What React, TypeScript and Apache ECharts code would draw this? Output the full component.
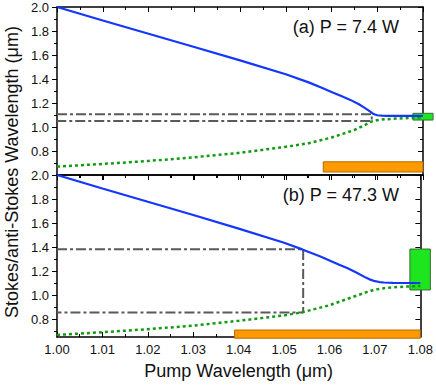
import React, { useEffect, useRef } from "react";
import * as echarts from "echarts";

// Panel (a): P = 7.4 W
const pumpStokesA = [1.0, 1.01, 1.02, 1.03, 1.04, 1.05, 1.055, 1.058, 1.06, 1.062, 1.064, 1.066, 1.067, 1.068, 1.069, 1.0695, 1.07, 1.071, 1.072, 1.08];
const stokesA = [2.0, 1.888, 1.777, 1.667, 1.555, 1.44, 1.372, 1.325, 1.292, 1.26, 1.228, 1.19, 1.166, 1.14, 1.113, 1.104, 1.098, 1.095, 1.093, 1.092];
const pumpAntiA = [1.0, 1.01, 1.02, 1.03, 1.04, 1.05, 1.055, 1.06, 1.065, 1.068, 1.069, 1.07, 1.071, 1.074, 1.08];
const antiA = [0.67, 0.692, 0.717, 0.748, 0.785, 0.835, 0.865, 0.912, 0.975, 1.03, 1.05, 1.057, 1.062, 1.07, 1.08];
const guideAx = [1.0, 1.0688, 1.0688, 1.0];
const guideAy = [1.106, 1.106, 1.05, 1.05];

// Panel (b): P = 47.3 W
const pumpStokesB = [1.0, 1.01, 1.02, 1.03, 1.04, 1.05, 1.054, 1.058, 1.062, 1.064, 1.066, 1.068, 1.069, 1.07, 1.071, 1.072, 1.074, 1.08];
const stokesB = [2.0, 1.888, 1.777, 1.667, 1.553, 1.435, 1.38, 1.32, 1.255, 1.222, 1.185, 1.145, 1.128, 1.115, 1.108, 1.104, 1.101, 1.1];
const pumpAntiB = [1.0, 1.01, 1.02, 1.03, 1.04, 1.05, 1.054, 1.06, 1.065, 1.068, 1.07, 1.072, 1.074, 1.077, 1.08];
const antiB = [0.667, 0.69, 0.715, 0.745, 0.785, 0.83, 0.856, 0.915, 0.982, 1.022, 1.045, 1.057, 1.064, 1.07, 1.075];
const guideBx = [1.0, 1.0542, 1.0542, 1.0];
const guideBy = [1.381, 1.381, 0.855, 0.855];

// Shaded bands: [x0, x1, y0, y1]
const pumpBandA = [1.0582, 1.08, 0.625, 0.71];
const outputBandA = [1.0778, 1.0822, 1.058, 1.114];
const pumpBandB = [1.0391, 1.08, 0.64, 0.708];
const outputBandB = [1.0777, 1.0822, 1.042, 1.383];

// Ticks
const majorA = [0.6, 0.8, 1.0, 1.2, 1.4, 1.6, 1.8, 2.0];
const labelsA = [0.8, 1.0, 1.2, 1.4, 1.6, 1.8, 2.0];
const minorA = [0.7, 0.9, 1.1, 1.3, 1.5, 1.7, 1.9];
const majorB = [0.8, 1.0, 1.2, 1.4, 1.6, 1.8, 2.0];
const labelsB = [0.8, 1.0, 1.2, 1.4, 1.6, 1.8, 2.0];
const minorB = [0.7, 0.9, 1.1, 1.3, 1.5, 1.7, 1.9];

const titleX = "Pump Wavelength (μm)";
const titleY = "Stokes/anti-Stokes Wavelength (μm)";
const noteA = "(a) P = 7.4 W";
const noteB = "(b) P = 47.3 W";

const FONT = "'Liberation Sans', Arial, sans-serif";
const zip = (xs: number[], ys: number[]) => xs.map((x, i) => [x, ys[i]]);

export default function App() {
  const ref = useRef<HTMLDivElement>(null);
  useEffect(() => {
    if (!ref.current) return;
    const chart = echarts.init(ref.current, null, { renderer: "svg" });
    const axisLine = { show: true, lineStyle: { color: "#000", width: 1.5 } };
    const xBase = (gridIndex: number, position: string, inside: boolean, labels: boolean) => ({
      type: "value",
      gridIndex,
      position,
      min: 1.0,
      max: 1.08,
      interval: 0.01,
      axisLine,
      splitLine: { show: false },
      axisTick: { show: true, inside, length: 5, lineStyle: { color: "#000", width: 1 } },
      minorTick: { show: true, splitNumber: 2, length: 3, lineStyle: { color: "#000", width: 1 } },
      axisLabel: {
        show: labels,
        margin: 6,
        fontSize: 13,
        fontFamily: FONT,
        color: "#111",
        formatter: (v: number) => v.toFixed(2),
      },
    });
    const yBase = (
      gridIndex: number,
      position: string,
      min: number,
      ticks: number[],
      len: number,
      inside: boolean,
      labels: number[] | null,
      showLine: boolean
    ) => ({
      type: "value",
      gridIndex,
      position,
      min,
      max: 2.0,
      axisLine: showLine ? axisLine : { show: false },
      splitLine: { show: false },
      axisTick: { show: true, inside, length: len, customValues: ticks, lineStyle: { color: "#000", width: 1 } },
      axisLabel: labels
        ? {
            show: true,
            customValues: labels,
            margin: 8,
            fontSize: 13,
            fontFamily: FONT,
            color: "#111",
            formatter: (v: number) => v.toFixed(1),
          }
        : { show: false },
    });
    const rectSeries = (xi: number, yi: number, data: number[][], fill: string, stroke: string) => ({
      type: "custom",
      xAxisIndex: xi,
      yAxisIndex: yi,
      z: 1,
      clip: false,
      silent: true,
      data,
      renderItem: (params: any, api: any) => {
        const p0 = api.coord([api.value(0), api.value(3)]);
        const p1 = api.coord([api.value(1), api.value(2)]);
        return {
          type: "rect",
          shape: { x: p0[0], y: p0[1], width: p1[0] - p0[0], height: p1[1] - p0[1] },
          style: { fill, stroke, lineWidth: 1 },
        };
      },
    });
    const blue = { color: "#1437ff", width: 2.2 };
    const green = { color: "#139a13", width: 2.5, type: [3, 3] };
    const gray = { color: "#5a5a5a", width: 2, type: [10, 3, 3, 3] };
    const line = (xi: number, yi: number, data: number[][], lineStyle: any) => ({
      type: "line",
      xAxisIndex: xi,
      yAxisIndex: yi,
      data,
      showSymbol: false,
      symbol: "none",
      smooth: false,
      lineStyle,
      z: 3,
    });
    chart.setOption({
      animation: false,
      grid: [
        { left: 57, top: 7, width: 366, height: 168 },
        { left: 57, top: 175, width: 366, height: 162 },
      ],
      xAxis: [
        xBase(0, "bottom", false, false),
        xBase(0, "top", true, false),
        {
          ...xBase(1, "bottom", true, true),
          name: titleX,
          nameLocation: "middle",
          nameGap: 25,
          nameTextStyle: { fontSize: 18, fontFamily: FONT, color: "#111" },
        },
        xBase(1, "top", true, false),
      ],
      yAxis: [
        yBase(0, "left", 0.6, majorA, 5, false, labelsA, true),
        yBase(0, "right", 0.6, majorA, 5, true, null, true),
        yBase(1, "left", 0.65, majorB, 5, false, labelsB, true),
        yBase(1, "right", 0.65, majorB, 5, true, null, true),
        yBase(0, "left", 0.6, minorA, 3, false, null, false),
        yBase(0, "right", 0.6, minorA, 3, true, null, false),
        yBase(1, "left", 0.65, minorB, 3, false, null, false),
        yBase(1, "right", 0.65, minorB, 3, true, null, false),
      ],
      series: [
        rectSeries(0, 0, [pumpBandA], "#ff9900", "#b36b00"),
        rectSeries(0, 0, [outputBandA], "#1ee61e", "#3a6a3a"),
        rectSeries(2, 2, [pumpBandB], "#ff9900", "#b36b00"),
        rectSeries(2, 2, [outputBandB], "#1ee61e", "#3a6a3a"),
        line(0, 0, zip(guideAx, guideAy), gray),
        line(2, 2, zip(guideBx, guideBy), gray),
        line(0, 0, zip(pumpAntiA, antiA), green),
        line(2, 2, zip(pumpAntiB, antiB), green),
        line(0, 0, zip(pumpStokesA, stokesA), blue),
        line(2, 2, zip(pumpStokesB, stokesB), blue),
      ],
      graphic: [
        {
          type: "text",
          x: 12,
          y: 172,
          rotation: Math.PI / 2,
          style: {
            text: titleY,
            fontSize: 18,
            fontFamily: FONT,
            fill: "#111",
            align: "center",
            verticalAlign: "middle",
          },
        },
        {
          type: "text",
          x: 399,
          y: 27,
          style: { text: noteA, fontSize: 18, fontFamily: FONT, fill: "#111", align: "right", verticalAlign: "middle" },
        },
        {
          type: "text",
          x: 399,
          y: 195,
          style: { text: noteB, fontSize: 18, fontFamily: FONT, fill: "#111", align: "right", verticalAlign: "middle" },
        },
      ],
    });
    return () => chart.dispose();
  }, []);
  return <div ref={ref} style={{ position: "fixed", left: 0, top: 0, width: 436, height: 386, background: "#fff" }} />;
}
